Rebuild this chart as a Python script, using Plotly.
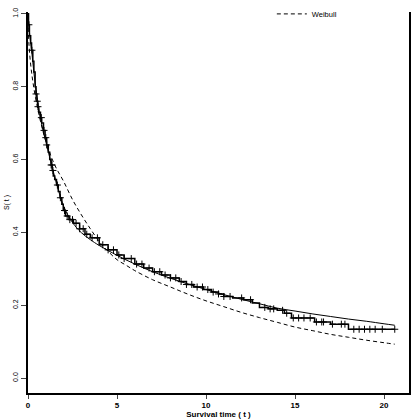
import numpy as np
import plotly.graph_objects as go

# Kaplan-Meier estimate (step function)
km_time = [0, 0.03, 0.08, 0.15, 0.2, 0.27, 0.33, 0.4, 0.45, 0.5, 0.55, 0.6, 0.7, 0.77,
           0.87, 0.96, 1.05, 1.14, 1.22, 1.3, 1.36, 1.42, 1.5, 1.6, 1.7, 1.8, 1.9, 1.98,
           2.1, 2.3, 2.55, 2.9, 3.2, 3.5, 4.0, 4.5, 5.0, 5.4, 6.0, 6.5, 7.0, 7.5, 8.0,
           8.5, 8.9, 9.3, 9.85, 10.3, 10.7, 11.0, 11.5, 12.1, 12.6, 13.0, 13.5, 14.0,
           14.4, 14.8, 16.1, 17.0, 18.0, 20.6]
km_surv = [1.0, 0.97, 0.94, 0.92, 0.90, 0.87, 0.84, 0.80, 0.78, 0.76, 0.745, 0.73, 0.715,
           0.70, 0.68, 0.66, 0.64, 0.62, 0.60, 0.585, 0.57, 0.555, 0.545, 0.53, 0.512,
           0.495, 0.477, 0.46, 0.445, 0.435, 0.425, 0.41, 0.395, 0.385, 0.366, 0.352,
           0.338, 0.328, 0.313, 0.302, 0.292, 0.283, 0.275, 0.265, 0.257, 0.25, 0.243,
           0.236, 0.231, 0.224, 0.22, 0.215, 0.206, 0.194, 0.19, 0.186, 0.178, 0.165,
           0.154, 0.148, 0.134, 0.134]

# censoring times (plus marks)
cens_time = [0.05, 0.22, 0.45, 0.52, 0.56, 0.75, 0.9, 1.0, 1.05, 1.3, 1.35, 1.4, 1.65,
             1.82, 2.05, 2.2, 2.35, 2.5, 2.7, 2.9, 3.1, 3.3, 3.6, 3.9, 4.2, 4.5, 4.8,
             5.1, 5.4, 5.8, 6.1, 6.4, 6.8, 7.1, 7.4, 7.7, 8.0, 8.3, 8.6, 8.9, 9.2, 9.5,
             9.8, 10.1, 10.4, 10.7, 11.0, 11.35, 12.0, 12.5, 13.3, 13.6, 13.8, 14.3,
             14.53, 14.9, 15.2, 15.5, 15.85, 16.2, 16.5, 16.6, 17.1, 17.6, 17.8, 18.3,
             18.6, 18.9, 19.2, 19.5, 19.9, 20.6]

# fitted smooth model (solid)
fit_time = [0, 0.1, 0.2, 0.4, 0.6, 0.8, 1.0, 1.3, 1.6, 2.0, 2.5, 3.0, 3.5, 4.0, 5.0, 6.0,
            7.0, 8.0, 9.0, 10.0, 11.0, 12.0, 13.0, 14.0, 15.0, 16.0, 17.0, 18.0, 19.0,
            20.0, 20.6]
fit_surv = [1.0, 0.94, 0.90, 0.81, 0.74, 0.69, 0.65, 0.59, 0.535, 0.472, 0.427, 0.399, 0.38,
            0.364, 0.337, 0.313, 0.292, 0.274, 0.258, 0.243, 0.229, 0.216, 0.204, 0.192,
            0.184, 0.176, 0.169, 0.162, 0.156, 0.149, 0.145]

# Weibull fit (dashed)
wei_time = [0, 0.05, 0.2, 0.5, 1.0, 1.5, 2.0, 2.5, 3.0, 3.5, 4.0, 4.5, 5.0, 5.5, 6.0, 7.0,
            8.0, 9.0, 10.0, 11.0, 12.0, 13.0, 14.0, 15.0, 16.0, 17.0, 18.0, 19.0, 20.0, 20.6]
wei_surv = [1.0, 0.92, 0.84, 0.75, 0.65, 0.585, 0.54, 0.49, 0.448, 0.41, 0.375, 0.348,
            0.325, 0.31, 0.295, 0.27, 0.25, 0.23, 0.212, 0.196, 0.18, 0.166, 0.153, 0.14,
            0.13, 0.12, 0.112, 0.104, 0.097, 0.093]

x_ticks = [0, 5, 10, 15, 20]
y_ticks = [0.0, 0.2, 0.4, 0.6, 0.8, 1.0]

km_t = np.array(km_time)
km_s = np.array(km_surv)
idx = np.searchsorted(km_t, np.array(cens_time), side="right") - 1
cens_surv = km_s[idx]

fig = go.Figure()
fig.add_trace(go.Scatter(x=fit_time, y=fit_surv, mode="lines", line_shape="spline",
                         line=dict(color="black", width=1), showlegend=False))
fig.add_trace(go.Scatter(x=wei_time, y=wei_surv, mode="lines", line_shape="spline",
                         line=dict(color="black", width=1, dash="4px,3px"),
                         name="Weibull", showlegend=True))
fig.add_trace(go.Scatter(x=km_time, y=km_surv, mode="lines", line_shape="hv",
                         line=dict(color="black", width=1.5), showlegend=False))
fig.add_trace(go.Scatter(x=cens_time, y=cens_surv, mode="markers",
                         marker=dict(symbol="cross-thin", size=5,
                                     line=dict(color="black", width=1)),
                         showlegend=False))

font = "Liberation Sans, Arial, sans-serif"
fig.update_layout(
    width=416, height=420,
    margin=dict(l=28, r=7, t=12, b=27, autoexpand=False),
    paper_bgcolor="white", plot_bgcolor="white",
    font=dict(family=font, color="black", size=8),
    legend=dict(x=0.64, y=0.995, xanchor="left", yanchor="middle",
                bgcolor="rgba(0,0,0,0)", font=dict(size=7.5, family=font)),
    xaxis=dict(range=[0, 21.4], tickvals=x_ticks, ticks="outside", ticklen=4,
               tickwidth=1, showline=True, linecolor="black", linewidth=1.5,
               showgrid=False, zeroline=False, automargin=False,
               tickfont=dict(size=8, family=font, weight="bold"),
               title=dict(text="Survival time ( t )", standoff=2,
                          font=dict(size=8, family=font, weight="bold"))),
    yaxis=dict(range=[-0.041, 1.005], tickvals=y_ticks, tickformat=".1f",
               ticks="outside", ticklen=5, tickwidth=1, showline=True, mirror=True,
               linecolor="black", linewidth=1.5, showgrid=False, zeroline=False,
               automargin=False,
               tickangle=-90, tickfont=dict(size=7, family=font),
               title=dict(text="S( t )", standoff=2, font=dict(size=7, family=font))),
)

fig.write_html("out.html")
